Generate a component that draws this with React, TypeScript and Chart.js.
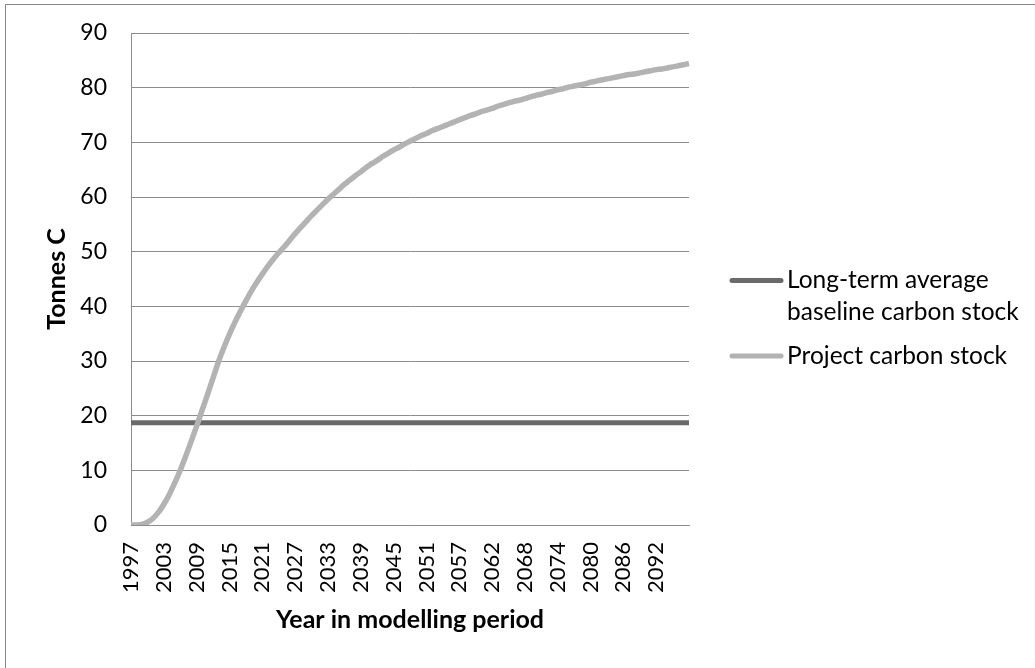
import React, { useEffect, useRef } from 'react';
import { Chart, registerables } from 'chart.js';

Chart.register(...registerables);

// Years of the modelling period (category axis)
const years = [
  '1997', '1998', '1999', '2000', '2001', '2002', '2003', '2004', '2005', '2006',
  '2007', '2008', '2009', '2010', '2011', '2012', '2013', '2014', '2015', '2016',
  '2017', '2018', '2019', '2020', '2021', '2022', '2023', '2024', '2025', '2026',
  '2027', '2028', '2029', '2030', '2031', '2032', '2033', '2034', '2035', '2036',
  '2037', '2038', '2039', '2040', '2041', '2042', '2043', '2044', '2045', '2046',
  '2047', '2048', '2049', '2050', '2051', '2052', '2053', '2054', '2055', '2056',
  '2057', '2058', '2059', '2059', '2060', '2061', '2062', '2063', '2064', '2065',
  '2066', '2067', '2068', '2069', '2070', '2071', '2072', '2073', '2074', '2075',
  '2076', '2077', '2078', '2079', '2080', '2081', '2082', '2083', '2084', '2085',
  '2086', '2087', '2088', '2089', '2090', '2091', '2092', '2093', '2094', '2095',
  '2096', '2097', '2098',
];

// Long-term average baseline carbon stock (Tonnes C)
const baselineCarbonStock = [
  18.7, 18.7, 18.7, 18.7, 18.7, 18.7, 18.7, 18.7, 18.7, 18.7,
  18.7, 18.7, 18.7, 18.7, 18.7, 18.7, 18.7, 18.7, 18.7, 18.7,
  18.7, 18.7, 18.7, 18.7, 18.7, 18.7, 18.7, 18.7, 18.7, 18.7,
  18.7, 18.7, 18.7, 18.7, 18.7, 18.7, 18.7, 18.7, 18.7, 18.7,
  18.7, 18.7, 18.7, 18.7, 18.7, 18.7, 18.7, 18.7, 18.7, 18.7,
  18.7, 18.7, 18.7, 18.7, 18.7, 18.7, 18.7, 18.7, 18.7, 18.7,
  18.7, 18.7, 18.7, 18.7, 18.7, 18.7, 18.7, 18.7, 18.7, 18.7,
  18.7, 18.7, 18.7, 18.7, 18.7, 18.7, 18.7, 18.7, 18.7, 18.7,
  18.7, 18.7, 18.7, 18.7, 18.7, 18.7, 18.7, 18.7, 18.7, 18.7,
  18.7, 18.7, 18.7, 18.7, 18.7, 18.7, 18.7, 18.7, 18.7, 18.7,
  18.7, 18.7, 18.7,
];

// Project carbon stock (Tonnes C)
const projectCarbonStock = [
  0, 0, 0.1, 0.5, 1.2, 2.3, 3.8, 5.6, 7.7, 10.0,
  12.6, 15.3, 18.1, 21.0, 23.9, 26.9, 29.9, 32.5, 34.9, 37.1,
  39.1, 41.0, 42.8, 44.4, 45.9, 47.3, 48.6, 49.8, 50.9, 52.1,
  53.3, 54.4, 55.5, 56.6, 57.6, 58.6, 59.6, 60.5, 61.4, 62.3,
  63.1, 63.9, 64.6, 65.4, 66.1, 66.7, 67.4, 68.0, 68.6, 69.1,
  69.7, 70.2, 70.7, 71.2, 71.6, 72.1, 72.5, 72.9, 73.3, 73.7,
  74.1, 74.5, 74.9, 75.2, 75.6, 75.9, 76.2, 76.6, 76.9, 77.2,
  77.5, 77.7, 78.0, 78.3, 78.6, 78.8, 79.1, 79.3, 79.6, 79.8,
  80.1, 80.3, 80.5, 80.7, 81.0, 81.2, 81.4, 81.6, 81.8, 82.0,
  82.2, 82.4, 82.5, 82.7, 82.9, 83.1, 83.3, 83.4, 83.6, 83.8,
  84.0, 84.2, 84.4,
];

const seriesNames = ['Long-term average baseline carbon stock', 'Project carbon stock'];
const legendTextLines = [['Long-term average', 'baseline carbon stock'], ['Project carbon stock']];
const yAxisTitle = 'Tonnes C';
const xAxisTitle = 'Year in modelling period';

const FONT = 'Lato, "DejaVu Sans", sans-serif';
const BASE_COLOR = '#6a6a6a';
const PROJECT_COLOR = '#b3b3b3';
const GRID_COLOR = '#8c8c8c';

export default function App() {
  const canvasRef = useRef<HTMLCanvasElement | null>(null);

  useEffect(() => {
    if (!canvasRef.current) return;

    const sideLegend = {
      id: 'sideLegend',
      afterDraw(chart: any) {
        const ctx = chart.ctx as CanvasRenderingContext2D;
        ctx.save();
        const items = [
          { color: BASE_COLOR, y: 280.5, lines: legendTextLines[0] },
          { color: PROJECT_COLOR, y: 356, lines: legendTextLines[1] },
        ];
        ctx.font = `24.5px ${FONT}`;
        ctx.fillStyle = '#000';
        ctx.textBaseline = 'middle';
        ctx.textAlign = 'left';
        items.forEach((it) => {
          ctx.strokeStyle = it.color;
          ctx.lineWidth = 5;
          ctx.lineCap = 'round';
          ctx.beginPath();
          ctx.moveTo(732, it.y);
          ctx.lineTo(781, it.y);
          ctx.stroke();
          it.lines.forEach((t, i) => {
            ctx.fillText(t, 787, it.y + i * 32);
          });
        });
        ctx.restore();
      },
    };

    const chart = new Chart(canvasRef.current, {
      type: 'line',
      data: {
        labels: years,
        datasets: [
          {
            label: seriesNames[0],
            data: baselineCarbonStock,
            borderColor: BASE_COLOR,
            borderWidth: 5,
            pointRadius: 0,
            fill: false,
            order: 1,
          },
          {
            label: seriesNames[1],
            data: projectCarbonStock,
            borderColor: PROJECT_COLOR,
            borderWidth: 5.5,
            pointRadius: 0,
            fill: false,
            cubicInterpolationMode: 'monotone',
            order: 0,
          },
        ],
      },
      options: {
        animation: false,
        responsive: false,
        maintainAspectRatio: false,
        layout: { padding: { left: 0, top: 33, right: 346, bottom: 0 } },
        plugins: {
          legend: { display: false },
          tooltip: { enabled: false },
        },
        scales: {
          x: {
            grid: { display: false, drawTicks: false },
            border: { color: GRID_COLOR, width: 1 },
            ticks: {
              autoSkip: false,
              maxRotation: 90,
              minRotation: 90,
              padding: 17,
              color: '#000',
              font: { family: FONT, size: 22 },
              callback: (_v: any, i: number) => (i % 6 === 0 && i <= 96 ? years[i] : ''),
            },
            title: {
              display: true,
              text: xAxisTitle,
              color: '#000',
              font: { family: FONT, size: 25, weight: 'bold' },
              padding: { top: 0, bottom: 33 },
            },
            afterFit: (s: any) => {
              s.height = 143;
            },
          },
          y: {
            min: 0,
            max: 90,
            ticks: {
              stepSize: 10,
              padding: 24,
              color: '#000',
              font: { family: FONT, size: 23 },
            },
            grid: { color: GRID_COLOR, lineWidth: 1, drawTicks: false },
            border: { color: GRID_COLOR, width: 1 },
            title: {
              display: true,
              text: yAxisTitle,
              color: '#000',
              font: { family: FONT, size: 25, weight: 'bold' },
              padding: { top: 42, bottom: 0 },
            },
            afterFit: (s: any) => {
              s.width = 131;
              s.paddingTop = 0;
              s.paddingBottom = 0;
            },
          },
        },
      },
      plugins: [sideLegend],
    });

    return () => {
      chart.destroy();
    };
  }, []);

  return (
    <div
      style={{
        position: 'fixed',
        left: 0,
        top: 0,
        width: 1035,
        height: 668,
        overflow: 'hidden',
        background: '#fff',
      }}
    >
      <div
        style={{
          position: 'absolute',
          left: 5,
          top: 4,
          width: 2000,
          height: 2000,
          borderTop: '1px solid #888',
          borderLeft: '1px solid #888',
        }}
      />
      <canvas
        ref={canvasRef}
        width={1035}
        height={668}
        style={{ position: 'absolute', left: 0, top: 0, display: 'block' }}
      />
    </div>
  );
}
